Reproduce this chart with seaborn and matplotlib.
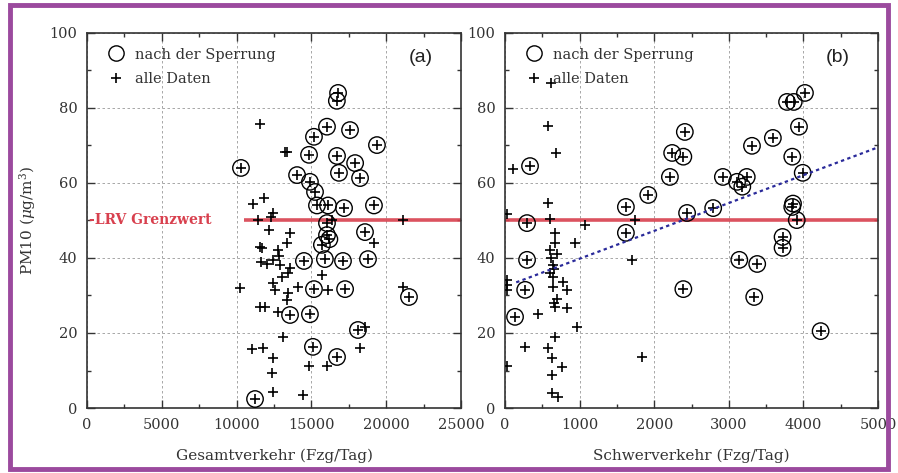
import matplotlib
matplotlib.use("Agg")
import matplotlib.pyplot as plt
from matplotlib.lines import Line2D
from matplotlib.patches import Rectangle
from matplotlib.ticker import MultipleLocator
import seaborn as sns

# --- Panel (a): Gesamtverkehr ---
nach_a_x = [10290, 16780, 16700, 16040, 17580, 15170, 19380, 14840, 16710, 17920,
            16840, 18250, 14040, 14900, 15240, 15370, 16110, 17180, 19180, 16040,
            18580, 16040, 15700, 16200, 14500, 15900, 17110, 18780, 15170, 17250,
            13570, 14900, 18110, 15100, 16710, 11230, 21520]
nach_a_y = [64, 84, 81.9, 75, 74.1, 72.3, 70.1, 67.5, 67.2, 65.3,
            62.7, 61.3, 62.1, 60.3, 57.6, 54, 54, 53.3, 54, 49.3,
            46.9, 46.1, 43.5, 45, 39.2, 39.7, 39.2, 39.7, 31.7, 31.7,
            24.8, 25, 20.8, 16.3, 13.6, 2.4, 29.6]
rest_a_x = [11560, 13230, 13400, 11100, 11830, 12430, 12300, 11430, 21120, 12160,
            13570, 13370, 11560, 19180, 11700, 12770, 11600, 12000, 12400, 12900,
            13570, 13440, 15700, 10230, 12430, 12570, 13440, 13370, 14100, 16110,
            11560, 11900, 12770, 13100, 11030, 11770, 12430, 12360, 12430, 14440,
            14840, 16040, 18250, 21120, 12800, 16400, 13000, 18600]
rest_a_y = [75.7, 68.3, 68.3, 54.4, 56, 52, 51, 50.1, 50.1, 47.5,
            46.7, 44, 43, 44, 42.7, 42, 39, 38.5, 39.5, 38,
            37.3, 36, 35.5, 32, 33.3, 31.5, 30.7, 28.8, 32.3, 31.5,
            27, 27, 25.6, 19, 15.7, 16, 13.3, 9.3, 4.3, 3.5,
            11.2, 11.2, 16, 32.3, 40.5, 50, 35, 21.5]

# --- Panel (b): Schwerverkehr ---
nach_b_x = [335, 295, 1620, 1920, 1620, 295, 270, 134, 2410, 2240,
            2390, 2210, 2440, 2790, 3310, 3590, 3780, 3870, 4020, 3940,
            3850, 3990, 2920, 3110, 3240, 3180, 3850, 3910, 3720, 3720,
            3140, 3380, 2390, 3340, 4230, 3860]
nach_b_y = [64.5, 49.3, 53.6, 56.8, 46.7, 39.5, 31.5, 24.3, 73.6, 68,
            67, 61.6, 52, 53.3, 69.9, 72, 81.6, 81.6, 84, 75,
            67, 62.7, 61.6, 60.3, 61.6, 59, 53.6, 50.1, 45.6, 42.7,
            39.5, 38.4, 31.7, 29.6, 20.5, 54.5]
rest_b_x = [615, 580, 680, 110, 580, 20, 600, 1070, 1740, 670,
            940, 670, 600, 620, 640, 660, 1700, 30, 30, 30,
            640, 780, 640, 830, 670, 830, 440, 960, 670, 270,
            580, 630, 760, 630, 630, 710, 1830, 700, 650, 600,
            690, 25]
rest_b_y = [86.7, 75.2, 68, 63.7, 54.7, 51.7, 50.4, 48.8, 50.1, 46.7,
            44, 44, 42, 40, 38, 37, 39.5, 34, 32.8, 31.5,
            35, 33.6, 32.3, 31.5, 27, 26.7, 25, 21.6, 19, 16.3,
            16, 13.3, 11, 8.8, 4, 3, 13.6, 29, 28, 36,
            41, 11.2]

trend_x = [150, 5000]
trend_y = [33.5, 69.5]
grenzwert = 50

sns.set_style("ticks")
plt.rcParams['font.family'] = ['DejaVu Serif']
plt.rcParams['mathtext.fontset'] = 'dejavuserif'

fig = plt.figure(figsize=(8.98, 4.73), dpi=100)
ax1 = fig.add_axes([0.0969, 0.1374, 0.4165, 0.793])
ax2 = fig.add_axes([0.5624, 0.1374, 0.4154, 0.793])

red = '#d8404e'
txt = '#333333'


def panel(ax, nx, ny, rx, ry, xmax, xmaj, xmin, label, xlabel):
    ax.grid(True, which='major', color='#999999', linestyle=(0, (3, 3)), linewidth=0.6)
    all_x = list(rx) + list(nx)
    all_y = list(ry) + list(ny)
    sns.scatterplot(x=all_x, y=all_y, marker='+', s=55, color='black',
                    linewidth=1.2, ax=ax, zorder=3)
    sns.scatterplot(x=nx, y=ny, marker='o', s=140, facecolor='none',
                    edgecolor='black', linewidth=1.0, ax=ax, zorder=4)
    ax.set_xlim(0, xmax)
    ax.set_ylim(0, 100)
    ax.xaxis.set_major_locator(MultipleLocator(xmaj))
    ax.xaxis.set_minor_locator(MultipleLocator(xmin))
    ax.yaxis.set_major_locator(MultipleLocator(20))
    ax.yaxis.set_minor_locator(MultipleLocator(10))
    ax.tick_params(which='both', direction='in', top=True, right=True,
                   labelsize=10.5, colors=txt)
    ax.tick_params(which='major', length=6, width=1, pad=7)
    ax.tick_params(which='minor', length=3, width=1)
    for s in ax.spines.values():
        s.set_linewidth(1.2)
        s.set_color(txt)
    ax.set_xlabel(xlabel, fontsize=11, color=txt, labelpad=12)
    ax.text(0.893, 0.935, label, transform=ax.transAxes, ha='center', va='center',
            fontsize=14, family=['Liberation Sans', 'DejaVu Sans'], color='#222222')
    handles = [
        Line2D([], [], marker='o', linestyle='none', markersize=11,
               markerfacecolor='none', markeredgecolor='black', markeredgewidth=1.0),
        Line2D([], [], marker='+', linestyle='none', markersize=7,
               color='black', markeredgewidth=1.2),
    ]
    ax.legend(handles, ['nach der Sperrung', 'alle Daten'], loc='upper left',
              frameon=False, fontsize=10.5, handletextpad=0.3, labelspacing=0.75,
              borderaxespad=0.6, labelcolor=txt)


panel(ax1, nach_a_x, nach_a_y, rest_a_x, rest_a_y, 25000, 5000, 2500, '(a)',
      'Gesamtverkehr (Fzg/Tag)')
panel(ax2, nach_b_x, nach_b_y, rest_b_x, rest_b_y, 5000, 1000, 500, '(b)',
      'Schwerverkehr (Fzg/Tag)')

ax1.hlines(grenzwert, 10500, 25000, color=red, linewidth=2.6, alpha=0.9, zorder=2)
ax1.text(100, grenzwert, '-LRV Grenzwert', color=red, fontsize=10,
         fontweight='bold', va='center', ha='left')
ax1.set_ylabel('PM10 ($\\mu$g/m$^3$)', fontsize=11, color=txt, labelpad=8)

ax2.axhline(grenzwert, color=red, linewidth=2.6, alpha=0.9, zorder=2)
sns.lineplot(x=trend_x, y=trend_y, ax=ax2, color='#2a2a9a', linestyle=(0, (1.5, 1.5)),
             linewidth=1.6, zorder=5)

fig.patches.append(Rectangle((0.011, 0.008), 0.978, 0.982, transform=fig.transFigure,
                             fill=False, edgecolor='#9b4a9e', linewidth=3.5))

fig.savefig('out.png', dpi=100)
